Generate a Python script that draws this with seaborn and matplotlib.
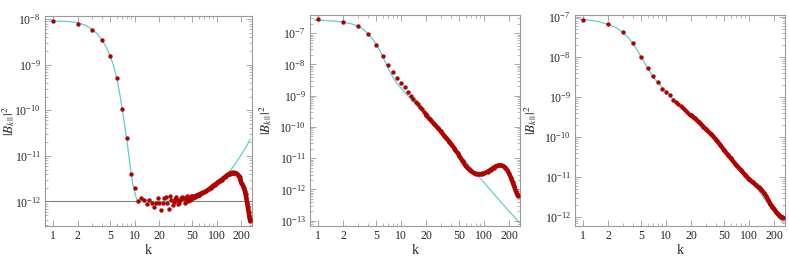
import numpy as np
import matplotlib
matplotlib.use("Agg")
import matplotlib.pyplot as plt
import matplotlib.ticker as mticker
import seaborn as sns

# ---- panel 1 : fast fall onto the 1e-12 floor ----
k1_red = [1, 2, 3, 4, 5, 6, 7, 8, 9, 10,
          11, 12, 13, 14, 15, 16, 17, 18, 19, 20, 21, 22, 23, 24, 25, 26, 27, 28,
          29, 30, 31, 32, 33, 34, 35, 36, 37, 38, 39, 40, 41, 42, 43, 44, 45,
          46, 47, 48, 49, 50, 51, 52, 53, 54, 55, 56, 57, 58, 59, 60]
b1_red = [9.0e-9, 8.0e-9, 5.9e-9, 3.5e-9, 1.56e-9, 5.1e-10, 1.08e-10, 2.45e-11, 4.0e-12, 2.0e-12,
          1.03e-12, 1.20e-12, 1.07e-12, 0.87e-12, 1.07e-12, 0.95e-12, 0.74e-12, 0.95e-12,
          1.22e-12, 0.95e-12, 0.65e-12, 0.95e-12, 1.22e-12, 1.28e-12, 0.95e-12, 0.67e-12,
          1.32e-12, 1.07e-12, 0.83e-12, 0.97e-12, 1.15e-12, 1.24e-12, 1.10e-12, 0.90e-12,
          0.92e-12, 1.07e-12, 1.20e-12, 1.28e-12, 1.22e-12, 1.18e-12, 0.95e-12, 1.13e-12,
          1.25e-12, 1.30e-12, 1.05e-12,
          1.28e-12, 1.10e-12, 1.30e-12, 1.15e-12, 1.32e-12, 1.20e-12, 1.33e-12, 1.24e-12,
          1.35e-12, 1.28e-12, 1.37e-12, 1.32e-12, 1.40e-12, 1.37e-12, 1.42e-12]
k1_tail = [60, 63, 66, 70, 75, 80, 85, 90, 95, 100, 105, 110, 115, 120, 125, 130, 135,
           140, 145, 150, 155, 160, 165, 170, 175, 180, 185, 190, 195, 200, 205, 210,
           215, 220, 225, 230, 235, 240, 245, 250, 253, 256]
b1_tail = [1.42e-12, 1.47e-12, 1.53e-12, 1.60e-12, 1.70e-12, 1.85e-12, 2.0e-12, 2.2e-12,
           2.35e-12, 2.5e-12, 2.7e-12, 2.85e-12, 3.0e-12, 3.2e-12, 3.4e-12, 3.6e-12,
           3.8e-12, 3.95e-12, 4.1e-12, 4.2e-12, 4.28e-12, 4.3e-12, 4.28e-12, 4.2e-12,
           4.05e-12, 3.9e-12, 3.65e-12, 3.4e-12, 3.0e-12, 2.6e-12, 2.4e-12, 2.2e-12,
           1.95e-12, 1.7e-12, 1.45e-12, 1.2e-12, 0.95e-12, 0.74e-12, 0.6e-12, 0.47e-12,
           0.42e-12, 0.38e-12]
k1_fit = [0.9, 1, 1.5, 2, 2.5, 3, 3.5, 4, 4.5, 5, 5.5, 6, 6.5, 7, 7.5, 8, 8.5, 9, 9.5,
          10, 10.5, 11, 12, 15, 20, 30, 40, 50, 60, 70, 80, 100, 120, 140, 160, 180,
          200, 230, 256]
b1_fit = [9.0e-9, 9.0e-9, 8.9e-9, 8.4e-9, 7.3e-9, 6.0e-9, 4.7e-9, 3.4e-9, 2.4e-9,
          1.55e-9, 9.5e-10, 5.2e-10, 2.5e-10, 1.08e-10, 4.8e-11, 2.2e-11, 9.5e-12,
          4.3e-12, 2.3e-12, 1.55e-12, 1.15e-12, 1.02e-12, 1.0e-12, 1.0e-12, 1.0e-12,
          1.02e-12, 1.06e-12, 1.2e-12, 1.35e-12, 1.55e-12, 1.8e-12, 2.5e-12, 3.2e-12,
          4.3e-12, 5.9e-12, 8.0e-12, 1.07e-11, 1.6e-11, 2.3e-11]
floor1 = 1e-12

# ---- panel 2 : power-law fall with a bump near k ~ 150 ----
k2_red = [1, 2, 3, 4, 5, 6, 7, 8, 9, 10, 11, 12, 13, 14, 15, 16, 17, 18, 19, 20]
b2_red = [2.75e-7, 2.3e-7, 1.67e-7, 9.1e-8, 4.1e-8, 1.85e-8, 9.4e-9, 5.7e-9, 3.7e-9,
          2.6e-9, 1.85e-9, 1.3e-9, 9.6e-10, 7.9e-10, 6.5e-10, 5.4e-10, 4.5e-10,
          3.7e-10, 3.1e-10, 2.6e-10]
k2_tail = [20, 22, 25, 28, 30, 33, 35, 38, 40, 43, 45, 48, 50, 55, 60, 65, 70, 75, 80,
           85, 90, 95, 100, 110, 120, 130, 140, 150, 160, 170, 180, 190, 200, 210, 220,
           230, 240, 250, 256]
b2_tail = [2.4e-10, 1.8e-10, 1.25e-10, 9.0e-11, 7.2e-11, 5.3e-11, 4.4e-11, 3.4e-11,
           2.8e-11, 2.2e-11, 1.8e-11, 1.45e-11, 1.2e-11, 8.0e-12, 5.6e-12, 4.5e-12,
           3.8e-12, 3.4e-12, 3.2e-12, 3.1e-12, 3.1e-12, 3.2e-12, 3.3e-12, 3.7e-12,
           4.3e-12, 5.0e-12, 5.6e-12, 5.9e-12, 5.9e-12, 5.6e-12, 5.0e-12, 4.1e-12,
           3.2e-12, 2.4e-12, 1.7e-12, 1.25e-12, 0.9e-12, 0.7e-12, 0.62e-12]
k2_fit = [0.9, 1, 1.5, 2, 2.5, 3, 3.5, 4, 4.5, 5, 5.5, 6, 6.5, 7, 7.5, 8, 9, 10, 11,
          12, 13, 15, 20, 25, 30, 40, 50, 60, 80, 100, 130, 160, 200, 256]
b2_fit = [2.65e-7, 2.6e-7, 2.45e-7, 2.25e-7, 2.0e-7, 1.7e-7, 1.33e-7, 9.5e-8, 6.6e-8,
          4.5e-8, 2.9e-8, 1.8e-8, 1.15e-8, 7.5e-9, 5.2e-9, 3.8e-9, 2.4e-9, 1.75e-9,
          1.3e-9, 1.0e-9, 8.1e-10, 5.2e-10, 2.2e-10, 1.1e-10, 6.4e-11, 2.6e-11,
          1.35e-11, 7.8e-12, 3.2e-12, 1.65e-12, 7.4e-13, 3.9e-13, 2.0e-13, 9.8e-14]

# ---- panel 3 : smooth fall with a small shoulder near k ~ 130 ----
k3_red = [1, 2, 3, 4, 5, 6, 7, 8, 9, 10, 11, 12, 13, 14, 15, 16, 17, 18, 19, 20]
b3_red = [8.3e-8, 6.4e-8, 4.2e-8, 2.15e-8, 9.8e-9, 5.3e-9, 3.3e-9, 2.4e-9, 1.6e-9,
          1.33e-9, 1.08e-9, 8.5e-10, 7.4e-10, 6.5e-10, 5.8e-10, 5.2e-10, 4.7e-10,
          4.2e-10, 3.8e-10, 3.4e-10]
k3_tail = [20, 22, 25, 28, 30, 35, 40, 45, 50, 55, 60, 70, 80, 90, 100, 110, 120, 130,
           140, 150, 160, 170, 180, 190, 200, 210, 220, 230, 240, 250, 256]
b3_tail = [3.4e-10, 2.9e-10, 2.3e-10, 1.8e-10, 1.55e-10, 1.15e-10, 8.5e-11, 6.2e-11,
           4.6e-11, 3.6e-11, 2.9e-11, 1.95e-11, 1.45e-11, 1.1e-11, 8.6e-12, 7.3e-12,
           6.3e-12, 5.5e-12, 4.8e-12, 4.0e-12, 3.3e-12, 2.6e-12, 2.1e-12, 1.8e-12,
           1.55e-12, 1.35e-12, 1.2e-12, 1.08e-12, 1.0e-12, 0.97e-12, 0.96e-12]
k3_fit = [0.9, 1, 1.5, 2, 2.5, 3, 3.5, 4, 4.5, 5, 5.5, 6, 6.5, 7, 8, 9, 10, 12, 15,
          20, 30, 40, 50, 60, 80, 100, 130, 160, 200, 230, 256]
b3_fit = [8.6e-8, 8.5e-8, 7.6e-8, 6.4e-8, 5.3e-8, 4.1e-8, 3.0e-8, 2.1e-8, 1.45e-8,
          9.8e-9, 7.0e-9, 5.1e-9, 3.9e-9, 3.1e-9, 2.2e-9, 1.7e-9, 1.35e-9, 8.8e-10,
          5.6e-10, 3.3e-10, 1.5e-10, 8.3e-11, 4.5e-11, 2.8e-11, 1.4e-11, 8.6e-12,
          4.5e-12, 2.45e-12, 1.3e-12, 9.0e-13, 7.0e-13]

x_ticks = [1, 2, 5, 10, 20, 50, 100, 200]
x_minor = [3, 4, 6, 7, 8, 9, 30, 40, 60, 70, 80, 90]
ylims = [(2.9e-13, 1.17e-8), (6.8e-14, 3.8e-7), (5.9e-13, 1.1e-7)]
ylabel_x = [-0.135, -0.17, -0.17]

RED = "#b00000"
CYAN = "#5fcfd0"
FRAME = "#9a9a9a"

sns.set_theme(style="ticks")
plt.rcParams["font.family"] = ["Liberation Serif", "DejaVu Serif"]
plt.rcParams["mathtext.fontset"] = "stix"

fig = plt.figure(figsize=(7.89, 2.56), dpi=100)
boxes = [[45 / 789, 30 / 256, 207 / 789, 210 / 256],
         [310 / 789, 30 / 256, 210 / 789, 211 / 256],
         [575 / 789, 30 / 256, 210 / 789, 211 / 256]]

panels = [
    (k1_red, b1_red, k1_tail, b1_tail, k1_fit, b1_fit),
    (k2_red, b2_red, k2_tail, b2_tail, k2_fit, b2_fit),
    (k3_red, b3_red, k3_tail, b3_tail, k3_fit, b3_fit),
]

for i, (kr, br, kt, bt, kf, bf) in enumerate(panels):
    ax = fig.add_axes(boxes[i])
    ax.set_xscale("log")
    ax.set_yscale("log")

    sns.lineplot(x=kf, y=bf, ax=ax, color=CYAN, linewidth=0.9,
                 estimator=None, sort=False, zorder=2)
    if i == 0:
        ax.axhline(floor1, color="#808080", linewidth=0.8, zorder=1)
    sns.lineplot(x=kt, y=bt, ax=ax, color=RED, linewidth=3.2,
                 estimator=None, sort=False, zorder=3)
    sns.scatterplot(x=kt, y=bt, ax=ax, color=RED, s=10, linewidth=0, zorder=3)
    sns.scatterplot(x=kr, y=br, ax=ax, color=RED, s=10, linewidth=0, zorder=4)

    lo, hi = ylims[i]
    ax.set_xlim(0.8, 270)
    ax.set_ylim(lo, hi)

    # only ticks that fall inside the view, so no hidden labels hang off the figure
    y_major = [10.0 ** e for e in range(-14, -5) if lo <= 10.0 ** e <= hi]
    y_minor = [m * 10.0 ** e for e in range(-14, -5) for m in range(2, 10)
               if lo <= m * 10.0 ** e <= hi]

    ax.xaxis.set_major_locator(mticker.FixedLocator(x_ticks))
    ax.xaxis.set_major_formatter(mticker.FixedFormatter([str(t) for t in x_ticks]))
    ax.xaxis.set_minor_locator(mticker.FixedLocator(x_minor))
    ax.xaxis.set_minor_formatter(mticker.NullFormatter())
    ax.yaxis.set_major_locator(mticker.FixedLocator(y_major))
    ax.yaxis.set_major_formatter(mticker.LogFormatterSciNotation())
    ax.yaxis.set_minor_locator(mticker.FixedLocator(y_minor))
    ax.yaxis.set_minor_formatter(mticker.NullFormatter())

    ax.tick_params(which="both", direction="in", top=True, right=True,
                   color=FRAME, labelsize=8.5, pad=3)
    ax.tick_params(which="major", length=4, width=0.6)
    ax.tick_params(which="minor", length=2, width=0.5)
    for sp in ax.spines.values():
        sp.set_color(FRAME)
        sp.set_linewidth(0.8)

    ax.set_xlabel("k", fontsize=10, labelpad=1)
    ax.set_ylabel(r"$|B_{k\,||}|^2$", fontsize=9.5)
    ax.yaxis.set_label_coords(ylabel_x[i], 0.5)

fig.savefig("out.png", dpi=100)
